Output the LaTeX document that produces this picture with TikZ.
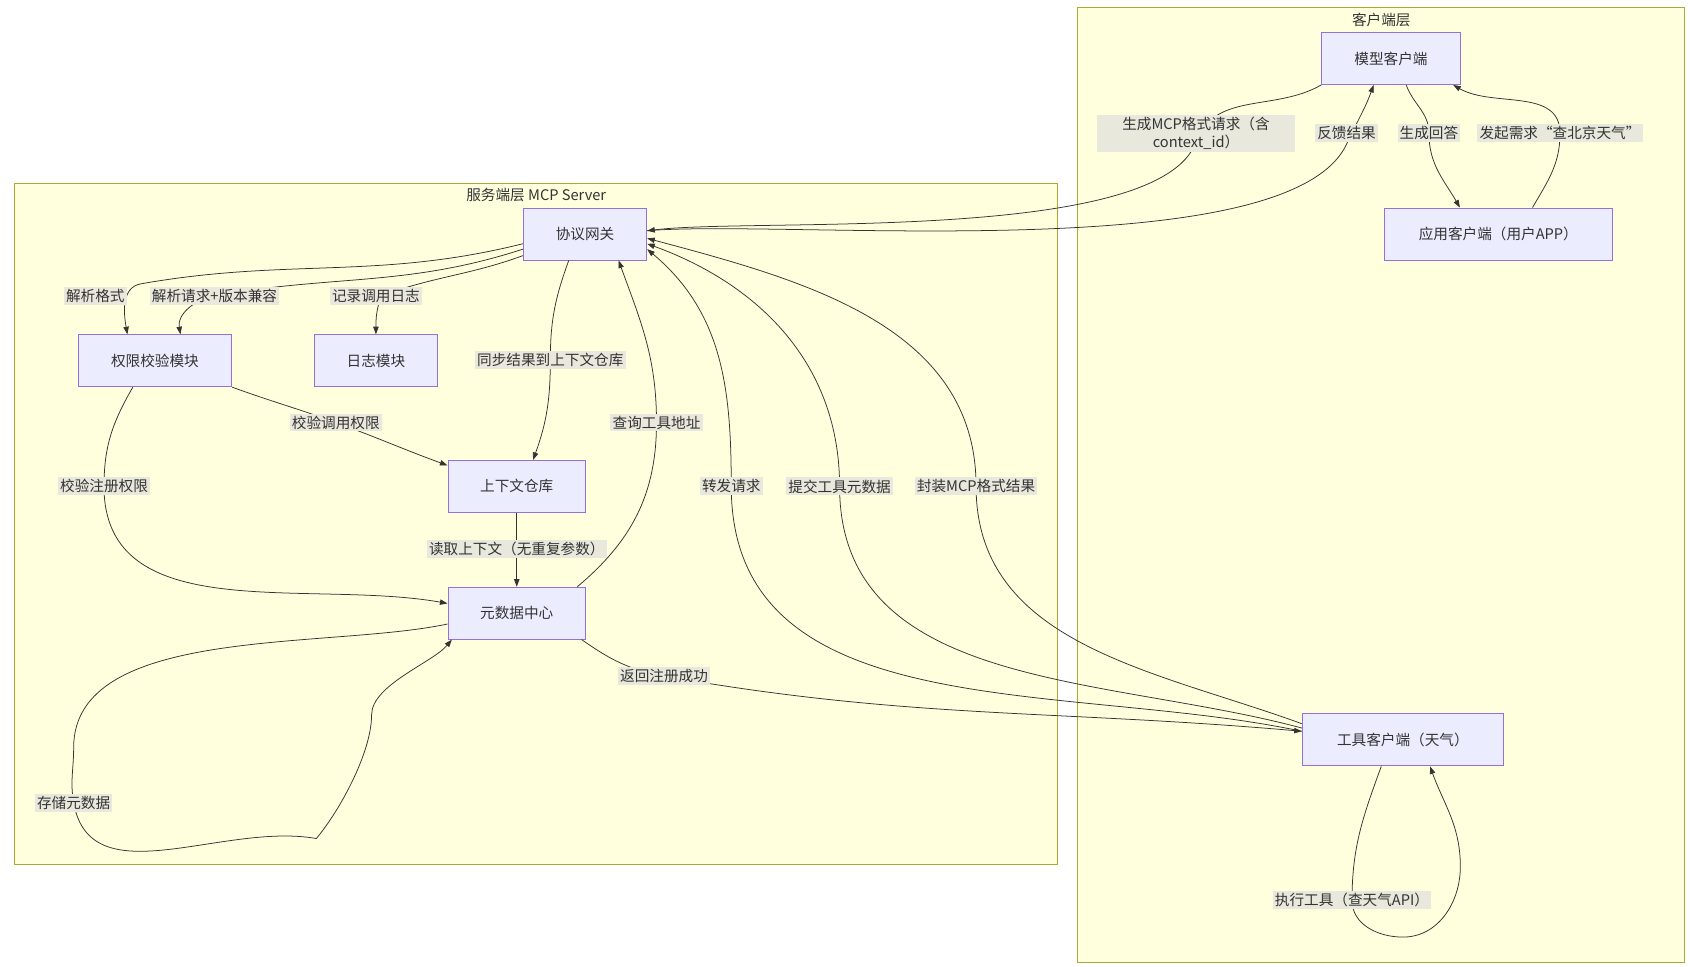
\documentclass[tikz,border=0pt]{standalone}
\usepackage{fontspec}
\setmainfont{Noto Sans CJK SC}
\usetikzlibrary{arrows.meta,calc}
\definecolor{nodefill}{HTML}{ECECFF}
\definecolor{nodeline}{HTML}{9370DB}
\definecolor{clfill}{HTML}{FFFFDE}
\definecolor{clline}{HTML}{AAAA33}
\definecolor{labfill}{HTML}{E8E8DC}
\definecolor{ink}{HTML}{333333}
\begin{document}
\begin{tikzpicture}[x=1pt,y=-1pt,font=\fontsize{13.5}{17}\selectfont,
  box/.style={draw=nodeline,fill=nodefill,text=ink,inner sep=0pt,line width=0.8pt},
  cl/.style={draw=clline,fill=clfill,line width=0.8pt},
  e/.style={draw=ink,line width=0.7pt,-{Triangle[length=7pt,width=5pt]}},
  lab/.style={fill=labfill,text=ink,inner sep=2pt,align=center}]
\useasboundingbox (0,0) rectangle (1560,892);
% clusters
\path[cl] (995,7) rectangle (1555,888);
\node[text=ink] (tc) at (1275,18) {客户端层};
\path[cl] (13,169) rectangle (976,798);
\node[text=ink] (ts) at (495,180) {服务端层 MCP Server};
% nodes
\node[box,minimum width=128pt,minimum height=48pt] (mc) at (1284,54) {模型客户端};
\node[box,minimum width=210pt,minimum height=48pt] (app) at (1383,216) {应用客户端（用户APP）};
\node[box,minimum width=186pt,minimum height=48pt] (tool) at (1295,683) {工具客户端（天气）};
\node[box,minimum width=114pt,minimum height=48pt] (gw) at (540,216) {协议网关};
\node[box,minimum width=142pt,minimum height=48pt] (perm) at (143,333) {权限校验模块};
\node[box,minimum width=113pt,minimum height=48pt] (log) at (347,333) {日志模块};
\node[box,minimum width=127pt,minimum height=48pt] (ctx) at (477,449) {上下文仓库};
\node[box,minimum width=127pt,minimum height=48pt] (meta) at (477,566) {元数据中心};
% label coordinates
\coordinate (c1) at (1104,123);
\coordinate (c2) at (1243,123);
\coordinate (c3) at (1319,123);
\coordinate (c4) at (1440,123);
\coordinate (c5) at (88,273);
\coordinate (c6) at (198,273);
\coordinate (c7) at (347,273);
\coordinate (c8) at (508,332);
\coordinate (c9) at (310,390);
\coordinate (c10) at (96,449);
\coordinate (c11) at (477,507);
\coordinate (c12) at (606,390);
\coordinate (c13) at (68,741);
\coordinate (c14) at (613,624);
\coordinate (c15) at (675,449);
\coordinate (c16) at (775,449);
\coordinate (c17) at (901,449);
\coordinate (c18) at (1248,831);
% edges
\draw[e] (mc.south west) to[out=-150,in=70] ($(c1)+(0,8)$) to[out=-110,in=7,looseness=0.5] ($(gw.east)+(0,-3)$);
\draw[e] ($(gw.east)+(0,-3)$) to[out=5,in=-115,looseness=0.5] ($(c2)+(0,10)$) to[out=65,in=-110] ($(mc.south)+(-16,0)$);
\draw[e] ($(mc.south)+(14,0)$) to[out=-70,in=90] (c3) to[out=-90,in=120] ($(app.north west)+(70,0)$);
\draw[e] ($(app.north west)+(137,0)$) to[out=60,in=-90] (c4) to[out=90,in=-30] ($(mc.south east)+(-7,0)$);
\draw[e] ($(gw.west)+(0,9)$) to[out=-166,in=10] (130,262) to[out=190,in=100] ($(perm.north west)+(46,0)$);
\draw[e] ($(gw.west)+(0,14)$) to[out=-162,in=10] (c6) to[out=190,in=100] ($(perm.north west)+(95,0)$);
\draw[e] ($(gw.west)+(0,20)$) to[out=-160,in=20] ($(c7)+(5,0)$) to[out=-110,in=90] (log.north);
\draw[e] ($(gw.south)+(-15,0)$) to[out=-110,in=90] (c8) to[out=-90,in=70] ($(ctx.north)+(15,0)$);
\draw[e] (perm.south east) to[out=-20,in=160] (c9) to[out=-20,in=160] ($(ctx.north west)+(0,5)$);
\draw[e] ($(perm.south west)+(51,0)$) to[out=-120,in=90] (c10) to[out=-90,in=170] ($(meta.west)+(0,-9)$);
\draw[e] (ctx.south) -- (c11) -- (meta.north);
\draw[e] ($(meta.north east)+(-8,0)$) to[out=40,in=-90] (c12) to[out=90,in=-70] ($(gw.south)+(31,0)$);
\draw[e] ($(meta.west)+(0,10)$) to[out=-168,in=90,looseness=0.8] (68,690) to[out=-90,in=100] (c13) to[out=-80,in=170] (292,774) to[out=50,in=-90,looseness=0.7] (343,660) to[out=90,in=-130,looseness=0.7] ($(meta.south west)+(4,0)$);
\draw[e] ($(meta.south east)+(-4,0)$) to[out=-35,in=170] (c14) to[out=-10,in=175] ($(tool.west)+(0,-8)$);
\draw[e] ($(tool.west)+(0,-8)$) to[out=168,in=-90] (c15) to[out=90,in=-40] ($(gw.east)+(0,14)$);
\draw[e] ($(tool.west)+(0,-11)$) to[out=165,in=-90] (c16) to[out=90,in=-20] ($(gw.east)+(0,9)$);
\draw[e] ($(tool.west)+(0,-15)$) to[out=160,in=-90] (c17) to[out=90,in=-15] ($(gw.east)+(0,4)$);
\draw[e] ($(tool.south)+(-20,0)$) to[out=-110,in=90] (c18) to[out=-90,in=180] (1295,865) to[out=0,in=-90] (1348,800) to[out=90,in=-70] ($(tool.south)+(25,0)$);
% labels
\node[lab,minimum width=182pt] (l1) at (c1) {生成MCP格式请求（含\\context\_id）};
\node[lab] (l2) at (c2) {反馈结果};
\node[lab] (l3) at (c3) {生成回答};
\node[lab] (l4) at (c4) {发起需求“查北京天气”};
\node[lab] (l5) at (c5) {解析格式};
\node[lab] (l6) at (c6) {解析请求+版本兼容};
\node[lab] (l7) at (c7) {记录调用日志};
\node[lab] (l8) at (c8) {同步结果到上下文仓库};
\node[lab] (l9) at (c9) {校验调用权限};
\node[lab] (l10) at (c10) {校验注册权限};
\node[lab] (l11) at (c11) {读取上下文（无重复参数）};
\node[lab] (l12) at (c12) {查询工具地址};
\node[lab] (l13) at (c13) {存储元数据};
\node[lab] (l14) at (c14) {返回注册成功};
\node[lab] (l15) at (c15) {转发请求};
\node[lab] (l16) at (c16) {提交工具元数据};
\node[lab] (l17) at (c17) {封装MCP格式结果};
\node[lab] (l18) at (c18) {执行工具（查天气API）};
\end{tikzpicture}
\end{document}
